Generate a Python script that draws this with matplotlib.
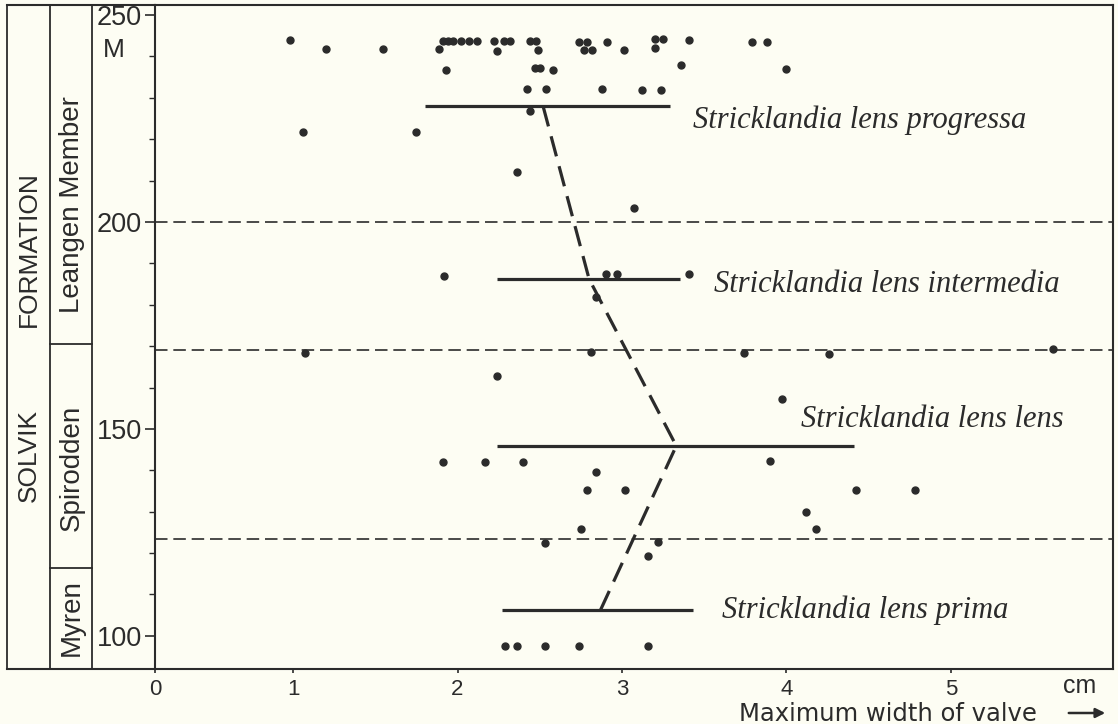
import matplotlib
matplotlib.use('Agg')
import matplotlib.pyplot as plt
import matplotlib.transforms as mtransforms
from matplotlib.lines import Line2D
from matplotlib.ticker import MultipleLocator

plt.rcParams['font.family'] = ['Liberation Sans', 'DejaVu Sans']

# individual specimens: maximum width (cm) vs height in section (m)
width_cm = [0.98, 1.91, 1.94, 1.97, 2.02, 2.07, 2.12, 2.22, 2.28, 2.32, 2.44, 2.48,
            2.74, 2.79, 2.91, 3.20, 3.25, 3.41, 3.79, 3.88,
            1.20, 1.55, 1.89, 2.24, 2.49, 2.77, 2.82, 3.01, 3.20,
            1.93, 2.47, 2.50, 2.58, 4.00, 3.36,
            2.42, 2.54, 2.88, 3.12, 3.24,
            2.44, 1.06, 1.75, 2.36, 3.07,
            1.92, 2.90, 2.97, 3.41, 2.84,
            1.07, 2.81, 3.74, 4.26, 5.62,
            2.24, 3.97,
            1.91, 2.17, 2.40, 3.90, 2.84,
            2.79, 3.02, 4.42, 4.78, 4.12,
            2.75, 4.18, 2.53, 3.22, 3.16,
            2.29, 2.36, 2.53, 2.74, 3.16]
height_m = [244.0, 243.6, 243.6, 243.6, 243.6, 243.6, 243.6, 243.6, 243.6, 243.6, 243.7, 243.7,
            243.5, 243.5, 243.5, 244.2, 244.2, 244.0, 243.5, 243.5,
            241.8, 241.8, 241.8, 241.3, 241.5, 241.5, 241.5, 241.5, 242.0,
            236.7, 237.2, 237.2, 236.7, 237.0, 238.0,
            232.1, 232.1, 232.1, 231.9, 231.9,
            226.8, 221.7, 221.7, 212.1, 203.4,
            187.0, 187.4, 187.4, 187.4, 181.9,
            168.4, 168.5, 168.4, 168.1, 169.3,
            162.8, 157.2,
            142.0, 142.0, 142.0, 142.3, 139.6,
            135.3, 135.3, 135.3, 135.3, 130.0,
            125.7, 125.8, 122.5, 122.6, 119.3,
            97.6, 97.6, 97.6, 97.6, 97.6]

# subspecies ranges and means
subspecies = ['Stricklandia lens prima', 'Stricklandia lens lens',
              'Stricklandia lens intermedia', 'Stricklandia lens progressa']
level_m = [106.3, 145.9, 186.2, 228.0]
range_min = [2.27, 2.24, 2.24, 1.80]
range_max = [3.43, 4.41, 3.35, 3.29]
mean_cm = [2.87, 3.33, 2.80, 2.52]
label_x = [3.61, 4.09, 3.56, 3.43]
label_y = [106.3, 152.2, 184.8, 224.6]

# member boundaries and dashed correlation levels
boundaries = [170.5, 116.5]
dashed_levels = [200, 169, 123.5]
members = ['Leangen Member', 'Spirodden', 'Myren']
member_mid = [205, 468, 618]   # pixel rows of label centres

ink = '#2b2b2b'
bg = '#fdfdf3'
W, H = 1118, 724

fig = plt.figure(figsize=(W / 100, H / 100), dpi=100, facecolor=bg)
ax = fig.add_axes([155 / W, 1 - 669 / H, (1113 - 155) / W, (669 - 5) / H])
ax.set_facecolor(bg)

x_left = 0.161
ax.set_xlim(x_left, 5.985)
ax.set_ylim(92.0, 252.4)

for s in ax.spines.values():
    s.set_color(ink)
    s.set_linewidth(1.5)

ax.set_xticks([x_left, 1, 2, 3, 4, 5])
ax.set_xticklabels(['0', '1', '2', '3', '4', '5'], fontsize=16, color=ink)
ax.tick_params(axis='x', direction='out', length=3, width=1.2, colors=ink, pad=4)
ax.set_yticks([100, 150, 200, 250])
ax.set_yticklabels(['100', '150', '200', '250'], fontsize=19.5, color=ink)
ax.yaxis.set_minor_locator(MultipleLocator(10))
ax.tick_params(axis='y', which='major', direction='out', length=7, width=1.2, colors=ink, pad=2.5)
ax.tick_params(axis='y', which='minor', direction='out', length=4, width=1.0, colors=ink)

for lev in dashed_levels:
    ax.axhline(lev, color=ink, lw=1.2, linestyle=(0, (7.5, 3.5)), zorder=1)

ax.plot(width_cm, height_m, 'o', color=ink, markersize=5, zorder=3)

for lo, hi, lev in zip(range_min, range_max, level_m):
    ax.plot([lo, hi], [lev, lev], color=ink, lw=2.3, solid_capstyle='butt', zorder=2)

ax.plot(mean_cm, level_m, color=ink, lw=2.3, linestyle=(0, (6.5, 3.2)), zorder=2)

for name, tx, ty in zip(subspecies, label_x, label_y):
    ax.text(tx, ty, name, fontsize=22, style='italic', family='Liberation Serif',
            color=ink, ha='left', va='center')

# stratigraphic columns on the left
fx = lambda px: px / W
fy = lambda py: 1 - py / H
col_x = [7, 50, 92]
for px in col_x:
    fig.add_artist(Line2D([fx(px), fx(px)], [fy(6), fy(669)], color=ink, lw=1.3))
fig.add_artist(Line2D([fx(7), fx(155)], [fy(5), fy(5)], color=ink, lw=1.5))
fig.add_artist(Line2D([fx(7), fx(155)], [fy(669), fy(669)], color=ink, lw=1.5))
blend = mtransforms.blended_transform_factory(fig.transFigure, ax.transData)
for b in boundaries:
    fig.add_artist(Line2D([fx(50), fx(92)], [b, b], color=ink, lw=1.3, transform=blend))

fig.text(fx(29), fy(249), 'FORMATION', rotation=90, fontsize=19, color=ink, ha='center', va='center')
fig.text(fx(29), fy(455), 'SOLVIK', rotation=90, fontsize=19, color=ink, ha='center', va='center')
for m, py in zip(members, member_mid):
    fig.text(fx(72), fy(py), m, rotation=90, fontsize=20, color=ink, ha='center', va='center')
fig.text(fx(114), fy(50), 'M', fontsize=19, color=ink, ha='center', va='center')

# x-axis caption
fig.text(fx(1037), fy(714), 'Maximum width of valve', fontsize=17.5, family='DejaVu Sans',
         color=ink, ha='right', va='center')
fig.text(fx(1080), fy(686), 'cm', fontsize=18, color=ink, ha='center', va='center')
ax.annotate('', xy=(fx(1108), fy(713)), xytext=(fx(1066), fy(713)),
            xycoords='figure fraction', textcoords='figure fraction',
            arrowprops=dict(arrowstyle='-|>', color=ink, lw=1.8, mutation_scale=14))

fig.savefig('out.png', dpi=100, facecolor=bg)
